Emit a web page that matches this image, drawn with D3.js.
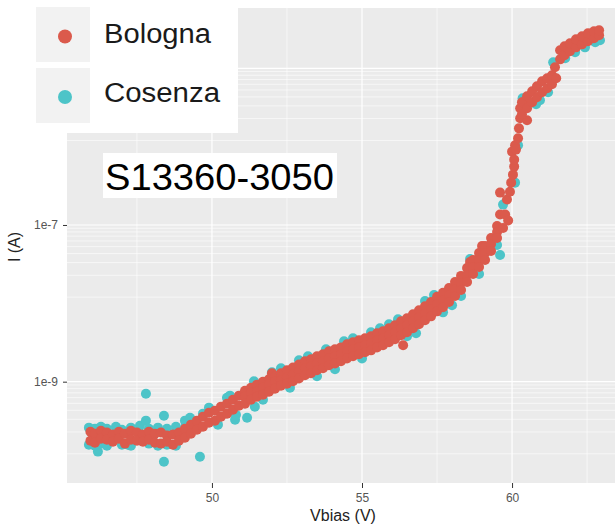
<!DOCTYPE html>
<html><head><meta charset="utf-8">
<script src="https://cdn.jsdelivr.net/npm/d3@7"></script>
<style>html,body{margin:0;padding:0;background:#fff;} svg{display:block;font-family:"Liberation Sans", Arial, sans-serif;}</style>
</head><body><svg id="c" width="615" height="530"></svg>
<script>
const seriesNames = ["Bologna", "Cosenza"];
const seriesColors = ["#DB5A4C", "#4DC4C8"];
const panelLabel = "S13360-3050";
const xTitle = "Vbias (V)";
const yTitle = "I (A)";
const xTicks = [50, 55, 60];
const xMinor = [47.5, 52.5, 57.5, 62.5];
const yTicks = [1e-9, 1e-7, 1e-5];
const yTickLabels = ["1e-9", "1e-7", "1e-5"];
const yMinor = [
  9.08e-6, 8.15e-6, 7.20e-6, 6.25e-6, 5.29e-6, 4.31e-6, 3.31e-6, 2.28e-6, 1.20e-6,
  9.08e-8, 8.15e-8, 7.20e-8, 6.25e-8, 5.29e-8, 4.31e-8, 3.31e-8, 2.28e-8, 1.20e-8,
  9.08e-10, 8.15e-10, 7.20e-10, 6.25e-10, 5.29e-10, 4.31e-10, 3.31e-10, 2.28e-10, 1.20e-10
];
const xDomain = [45.17, 63.43];
const yDomain = [5.09e-11, 5.88e-5];

// Bologna: [Vbias (V), I (A)]
const bologna = [
  [45.95,2.30e-10],[45.95,1.76e-10],[46.1,2.17e-10],[46.1,1.66e-10],
  [46.3,2.37e-10],[46.3,1.87e-10],[46.5,2.24e-10],[46.5,1.82e-10],
  [46.7,2.11e-10],[46.7,1.71e-10],[46.9,2.30e-10],[46.9,1.87e-10],
  [47.1,2.17e-10],[47.1,1.62e-10],[47.3,2.37e-10],[47.3,1.82e-10],
  [47.5,2.24e-10],[47.5,1.76e-10],[47.7,2.11e-10],[47.7,1.71e-10],
  [47.9,2.30e-10],[47.9,1.82e-10],[48.1,2.17e-10],[48.1,1.66e-10],
  [48.3,2.24e-10],[48.3,1.62e-10],[48.5,2.05e-10],[48.5,1.71e-10],
  [48.7,2.11e-10],[48.7,1.57e-10],[48.9,2.24e-10],[48.9,1.76e-10],
  [49.1,2.51e-10],[49.1,1.93e-10],[49.3,2.83e-10],[49.3,2.17e-10],
  [49.5,3.18e-10],[49.5,2.44e-10],[49.7,3.57e-10],[49.7,2.66e-10],
  [49.9,4.02e-10],[49.9,3.00e-10],[50.1,4.27e-10],[50.1,3.18e-10],
  [50.3,4.80e-10],[50.3,3.57e-10],[50.5,5.24e-10],[50.5,3.91e-10],
  [50.7,5.89e-10],[50.7,4.39e-10],[50.9,6.63e-10],[50.9,4.94e-10],
  [51.1,7.67e-10],[51.1,6.43e-10],[51.1,5.24e-10],
  [51.3,8.38e-10],[51.3,7.24e-10],[51.3,5.89e-10],
  [51.5,9.16e-10],[51.5,7.45e-10],[51.5,6.43e-10],
  [51.7,1.00e-9],[51.7,8.38e-10],[51.7,6.82e-10],
  [51.9,1.07e-9],[51.9,9.16e-10],[51.9,7.45e-10],
  [52.0,1.28e-9],
  [52.1,1.17e-9],[52.1,1.00e-9],[52.1,8.14e-10],
  [52.3,1.28e-9],[52.3,1.04e-9],[52.3,8.89e-10],
  [52.5,1.40e-9],[52.5,1.14e-9],[52.5,9.43e-10],
  [52.7,1.52e-9],[52.7,1.24e-9],[52.7,1.01e-9],
  [52.9,1.66e-9],[52.9,1.36e-9],[52.9,1.10e-9],
  [53.1,1.82e-9],[53.1,1.48e-9],[53.1,1.21e-9],
  [53.3,1.93e-9],[53.3,1.57e-9],[53.3,1.28e-9],
  [53.5,2.11e-9],[53.5,1.71e-9],[53.5,1.40e-9],
  [53.7,2.24e-9],[53.7,1.82e-9],[53.7,1.48e-9],
  [53.9,2.44e-9],[53.9,1.98e-9],[53.9,1.62e-9],
  [54.1,2.59e-9],[54.1,2.11e-9],[54.1,1.71e-9],
  [54.3,2.74e-9],[54.3,2.24e-9],[54.3,1.82e-9],
  [54.5,3.00e-9],[54.5,2.44e-9],[54.5,1.98e-9],
  [54.7,3.18e-9],[54.7,2.59e-9],[54.7,2.11e-9],
  [54.9,3.37e-9],[54.9,2.74e-9],[54.9,2.24e-9],
  [55.1,3.57e-9],[55.1,2.91e-9],[55.1,2.37e-9],
  [55.3,3.79e-9],[55.3,3.09e-9],[55.3,2.51e-9],
  [55.5,4.14e-9],[55.5,3.37e-9],[55.5,2.74e-9],
  [55.7,4.39e-9],[55.7,3.57e-9],[55.7,2.91e-9],
  [55.9,4.80e-9],[55.9,3.91e-9],[55.9,3.18e-9],
  [56.1,5.24e-9],[56.1,4.27e-9],[56.1,3.47e-9],
  [56.3,5.89e-9],[56.3,4.80e-9],[56.3,3.91e-9],
  [56.37,2.91e-9],
  [56.5,6.43e-9],[56.5,5.24e-9],[56.5,4.27e-9],
  [56.7,7.24e-9],[56.7,5.89e-9],[56.7,4.80e-9],
  [56.9,8.14e-9],[56.9,6.63e-9],[56.9,5.40e-9],
  [57.1,9.16e-9],[57.1,7.45e-9],[57.1,6.07e-9],
  [57.3,1.04e-8],[57.3,8.38e-9],[57.3,6.82e-9],
  [57.5,1.21e-8],[57.5,9.71e-9],[57.5,7.90e-9],
  [57.7,1.36e-8],[57.7,1.10e-8],[57.7,8.89e-9],
  [57.9,1.57e-8],[57.9,1.28e-8],[57.9,1.04e-8],
  [58.1,1.87e-8],[58.1,1.52e-8],[58.1,1.24e-8],
  [58.3,2.24e-8],[58.3,1.82e-8],[58.3,1.48e-8],
  [58.5,2.83e-8],[58.5,2.30e-8],[58.5,1.87e-8],
  [58.6,3.37e-8],
  [58.7,3.57e-8],[58.7,2.91e-8],[58.7,2.37e-8],
  [58.9,4.39e-8],[58.9,3.57e-8],[58.9,2.91e-8],
  [59.0,5.40e-8],
  [59.1,5.40e-8],[59.1,4.39e-8],[59.1,3.57e-8],
  [59.3,6.82e-8],[59.3,5.72e-8],[59.3,4.66e-8],
  [59.5,9.71e-8],[59.5,8.14e-8],[59.5,6.82e-8],
  [59.6,1.36e-7],[59.6,2.59e-7],[59.7,9.16e-8],[59.77,1.36e-7],
  [59.83,2.11e-7],[59.87,1.14e-7],[59.93,2.66e-7],[59.97,3.47e-7],
  [60.0,8.63e-7],[60.03,4.39e-7],[60.07,5.56e-7],[60.07,6.82e-7],
  [60.1,1.04e-6],[60.13,9.16e-7],[60.2,1.28e-6],[60.23,1.71e-6],
  [60.27,2.30e-6],[60.27,3.09e-6],[60.37,3.68e-6],[60.5,2.17e-6],
  [60.33,3.68e-6],[60.33,2.59e-6],[60.5,4.39e-6],[60.5,3.09e-6],
  [60.67,5.09e-6],[60.67,3.68e-6],[60.83,5.89e-6],[60.83,4.27e-6],
  [61.0,6.82e-6],[61.0,4.94e-6],[61.17,7.45e-6],[61.17,5.56e-6],
  [61.33,8.14e-6],[61.33,6.25e-6],[61.47,7.45e-6],[61.43,1.03e-5],
  [61.6,1.30e-5],[61.6,1.70e-5],[61.75,1.47e-5],[61.75,1.91e-5],
  [61.93,1.65e-5],[61.93,2.08e-5],[62.13,1.85e-5],[62.13,2.34e-5],
  [62.33,2.02e-5],[62.33,2.56e-5],[62.53,2.21e-5],[62.53,2.80e-5],
  [62.73,2.42e-5],[62.73,2.97e-5],[62.9,2.64e-5],[62.9,3.06e-5]
];

// Cosenza: [Vbias (V), I (A)]
const cosenza = [
  [45.9,2.59e-10],[45.9,1.57e-10],[46.1,2.51e-10],[46.1,1.52e-10],
  [46.2,1.28e-10],[46.3,2.66e-10],[46.3,1.62e-10],[46.5,2.51e-10],
  [46.5,1.52e-10],[46.8,2.66e-10],[47.0,2.44e-10],[47.0,1.57e-10],
  [47.2,1.57e-10],[47.3,2.59e-10],[47.3,1.52e-10],[47.6,2.74e-10],
  [47.8,7.03e-10],[47.8,3.18e-10],[47.9,2.51e-10],[47.9,1.62e-10],
  [48.2,2.59e-10],[48.2,1.52e-10],[48.4,3.68e-10],[48.4,9.5e-11],
  [48.5,2.51e-10],[48.5,1.57e-10],[48.8,2.66e-10],[48.8,1.52e-10],
  [49.1,3.18e-10],[49.13,2.91e-10],[49.27,3.47e-10],[49.6,1.10e-10],
  [49.7,3.91e-10],[49.9,4.66e-10],[50.2,2.83e-10],[50.5,6.25e-10],
  [50.6,6.63e-10],[50.77,3.27e-10],[50.8,3.79e-10],[51.03,6.82e-10],
  [51.17,3.47e-10],[51.4,1.01e-9],[51.43,4.80e-10],[51.7,5.89e-10],
  [52.0,1.32e-9],[52.3,1.48e-9],[52.6,8.38e-10],[52.9,1.87e-9],
  [53.2,2.11e-9],[53.5,1.17e-9],[53.8,2.59e-9],[54.1,1.44e-9],
  [54.4,3.27e-9],[54.7,3.57e-9],[55.0,1.98e-9],[55.3,4.27e-9],
  [55.6,4.80e-9],[55.9,5.40e-9],[56.2,6.25e-9],[56.5,3.79e-9],
  [56.8,4.14e-9],[57.1,1.07e-8],[57.4,1.28e-8],[57.7,7.67e-9],
  [58.0,9.43e-9],[58.3,1.24e-8],[58.6,3.68e-8],[58.9,2.37e-8],
  [59.2,4.80e-8],[59.5,5.56e-8],[59.6,4.14e-8],[59.7,1.82e-7],
  [60.1,3.47e-7],[60.2,1.04e-6],[60.35,4.14e-6],[60.8,3.47e-6],
  [60.93,3.91e-6],[61.2,4.94e-6],[61.37,1.19e-5],[61.77,1.34e-5],
  [62.1,1.60e-5],[62.43,1.85e-5],[62.77,2.15e-5],[62.93,2.28e-5]
];

const svg = d3.select("#c");
const W = 615, H = 530;
const P = {left: 67, top: 8, right: 615, bottom: 483};

const x = d3.scaleLinear().domain(xDomain).range([P.left, P.right]);
const y = d3.scaleLog().domain(yDomain).range([P.bottom, P.top]);

svg.append("rect").attr("width", W).attr("height", H).attr("fill", "#fff");
svg.append("defs").append("clipPath").attr("id", "clip")
  .append("rect").attr("x", P.left).attr("y", P.top)
  .attr("width", P.right - P.left).attr("height", P.bottom - P.top);

const panel = svg.append("g");
panel.append("rect").attr("x", P.left).attr("y", P.top)
  .attr("width", P.right - P.left).attr("height", P.bottom - P.top).attr("fill", "#EBEBEB");

const grid = panel.append("g").attr("clip-path", "url(#clip)");
grid.selectAll(".hmin").data(yMinor).join("line")
  .attr("x1", P.left).attr("x2", P.right)
  .attr("y1", d => y(d)).attr("y2", d => y(d))
  .attr("stroke", "#fff").attr("stroke-width", 0.6);
grid.selectAll(".vmin").data(xMinor).join("line")
  .attr("y1", P.top).attr("y2", P.bottom)
  .attr("x1", d => x(d)).attr("x2", d => x(d))
  .attr("stroke", "#fff").attr("stroke-width", 0.6);
grid.selectAll(".hmaj").data(yTicks).join("line")
  .attr("x1", P.left).attr("x2", P.right)
  .attr("y1", d => y(d)).attr("y2", d => y(d))
  .attr("stroke", "#fff").attr("stroke-width", 1.2);
grid.selectAll(".vmaj").data(xTicks).join("line")
  .attr("y1", P.top).attr("y2", P.bottom)
  .attr("x1", d => x(d)).attr("x2", d => x(d))
  .attr("stroke", "#fff").attr("stroke-width", 1.2);

const pts = panel.append("g").attr("clip-path", "url(#clip)");
pts.selectAll(".cz").data(cosenza).join("circle")
  .attr("cx", d => x(d[0])).attr("cy", d => y(d[1])).attr("r", 5)
  .attr("fill", seriesColors[1]);
pts.selectAll(".bo").data(bologna).join("circle")
  .attr("cx", d => x(d[0])).attr("cy", d => y(d[1])).attr("r", 5)
  .attr("fill", seriesColors[0]);

// axes
const xAxis = svg.append("g").attr("transform", `translate(0,${P.bottom})`)
  .call(d3.axisBottom(x).tickValues(xTicks).tickSize(5).tickPadding(5).tickFormat(d3.format("d")));
const yAxis = svg.append("g").attr("transform", `translate(${P.left},0)`)
  .call(d3.axisLeft(y).tickValues(yTicks).tickSize(4).tickPadding(5)
    .tickFormat((d, i) => yTickLabels[yTicks.indexOf(d)]));
[xAxis, yAxis].forEach(a => {
  a.select(".domain").remove();
  a.selectAll(".tick line").attr("stroke", "#333").attr("stroke-width", 1);
  a.selectAll(".tick text").attr("fill", "#555").style("font-size", "12px")
    .style("font-family", '"Liberation Sans", Arial, sans-serif');
});

svg.append("text").attr("x", (P.left + P.right) / 2 + 2).attr("y", 521)
  .attr("text-anchor", "middle").style("font-size", "16px").attr("fill", "#222").text(xTitle);
svg.append("text").attr("transform", "translate(20,247) rotate(-90)")
  .attr("text-anchor", "middle").style("font-size", "16px").attr("fill", "#222").text(yTitle);

// legend (overlaid)
const lg = svg.append("g");
lg.append("rect").attr("x", 0).attr("y", 0).attr("width", 238).attr("height", 133).attr("fill", "#fff");
const keyY = [7, 68];
const dotY = [36.5, 97];
const textY = [43, 102];
const textLen = [107, 116];
seriesNames.forEach((n, i) => {
  lg.append("rect").attr("x", 36).attr("y", keyY[i]).attr("width", 54).attr("height", 55).attr("fill", "#F2F2F2");
  lg.append("circle").attr("cx", 65).attr("cy", dotY[i]).attr("r", 7).attr("fill", seriesColors[i]);
  lg.append("text").attr("x", 104).attr("y", textY[i]).style("font-size", "27px").attr("fill", "#1a1a1a")
    .attr("textLength", textLen[i]).attr("lengthAdjust", "spacingAndGlyphs").text(n);
});

// panel label
svg.append("rect").attr("x", 103).attr("y", 153).attr("width", 234).attr("height", 45).attr("fill", "#fff");
svg.append("text").attr("x", 105).attr("y", 190).style("font-size", "37px").attr("fill", "#000")
  .attr("textLength", 229).attr("lengthAdjust", "spacingAndGlyphs").text(panelLabel);
</script></body></html>
